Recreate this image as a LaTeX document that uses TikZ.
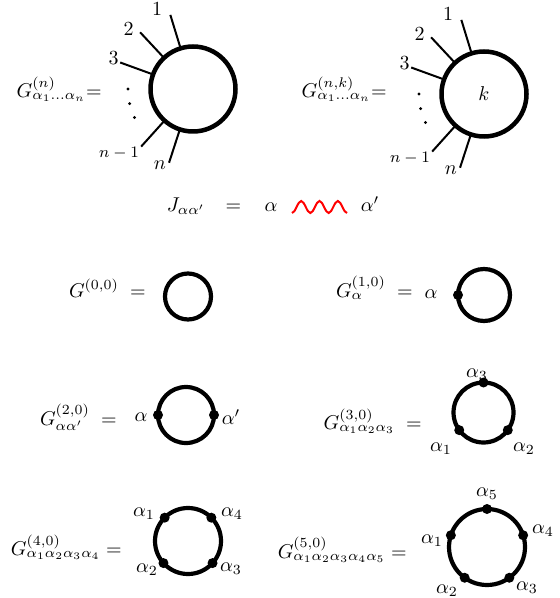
\documentclass[tikz,border=0pt]{standalone}

\begin{document}
\begin{tikzpicture}[x=0.5pt,y=0.5pt,
  blob/.style={circle,draw,line width=2.25pt,inner sep=0pt,outer sep=0pt,minimum size=42.5pt},
  loop/.style={circle,draw,line width=2.1pt,inner sep=0pt,outer sep=0pt},
  leg/.style={line width=1pt},
  vtx/.style={circle,fill,inner sep=0pt,minimum size=5pt},
  eq/.style={anchor=base east,inner sep=0pt},
  photon/.style={red,line width=1pt}]
\useasboundingbox (0,0) rectangle (559,-598);

% n-point blobs
\node[blob] (gn) at (193,-89) {};
\node[blob] (gk) at (484,-94) {$k$};
\node[eq] (egn) at (102,-97.5) {$G^{(n)}_{\alpha_1\ldots\alpha_n}{=}$};
\node[eq] (egk) at (387,-97.5) {$G^{(n,k)}_{\alpha_1\ldots\alpha_n}{=}$};
\foreach \b in {gn,gk}{
  \foreach \a in {107,133,160,228,252}
    \draw[leg] (\b.\a) -- ++(\a:35);
  \foreach \a in {180,193,206}
    \fill (\b) ++(\a:65) circle (1.6);
  \path (\b) ++(114:88) node (\b1) {$1$}
        (\b) ++(137:88) node (\b2) {$2$}
        (\b) ++(159:85) node (\b3) {$3$}
        (\b) ++(221:98) node[font=\footnotesize] (\b4) {$n-1$}
        (\b) ++(246.5:83) node (\b5) {$n$};
}

% propagator
\node[anchor=base] (jl) at (186,-212) {$J_{\alpha\alpha'}$};
\node[anchor=base] (jeq) at (233.5,-212) {$=$};
\node[anchor=base] (ja) at (271,-212) {$\alpha$};
\node[anchor=base] (jb) at (370,-212) {$\alpha'$};
\coordinate (ws) at (292,-213);
\draw[photon] (ws) \foreach \k in {1,2,3}{
  cos ++(4.583,6) sin ++(4.583,6) cos ++(4.583,-6) sin ++(4.583,-6)};

% loops
\node[eq] (e00) at (146,-297) {$G^{(0,0)}\; =$};
\node[loop,minimum size=23pt] (c00) at (188,-296.5) {};

\node[eq] (e10) at (413,-297) {$G^{(1,0)}_{\alpha}\; =$};
\node[anchor=base] (a10) at (431,-298) {$\alpha$};
\node[loop,minimum size=26pt] (c10) at (484,-295) {};
\node[vtx] (v10) at (c10.180) {};

\node[eq] (e20) at (117,-425) {$G^{(2,0)}_{\alpha\alpha'}\; =$};
\node[loop,minimum size=28pt] (c20) at (186,-415) {};
\node[vtx] (v20a) at (c20.180) {};
\node[vtx] (v20b) at (c20.0) {};
\node (a20a) at (141,-417) {$\alpha$};
\node (a20b) at (231,-417) {$\alpha'$};

\node[eq] (e30) at (422,-429.5) {$G^{(3,0)}_{\alpha_1\alpha_2\alpha_3}\; =$};
\node[loop,minimum size=30pt] (c30) at (483.5,-412.5) {};
\foreach \a [count=\i] in {216,324,90}
  \node[vtx] (v30\i) at (c30.\a) {};
\node (a31) at (441,-449) {$\alpha_1$};
\node (a32) at (524,-449) {$\alpha_2$};
\node (a33) at (477,-375) {$\alpha_3$};

\node[eq] (e40) at (122,-555.5) {$G^{(4,0)}_{\alpha_1\alpha_2\alpha_3\alpha_4} =$};
\node[loop,minimum size=33pt] (c40) at (188,-541) {};
\foreach \a [count=\i] in {135,222,318,45}
  \node[vtx] (v40\i) at (c40.\a) {};
\node (a41) at (144,-514) {$\alpha_1$};
\node (a42) at (147,-570) {$\alpha_2$};
\node (a43) at (231,-569) {$\alpha_3$};
\node (a44) at (232,-514) {$\alpha_4$};

\node[eq] (e50) at (407,-558) {$G^{(5,0)}_{\alpha_1\alpha_2\alpha_3\alpha_4\alpha_5} =$};
\node[loop,minimum size=38pt] (c50) at (487,-547) {};
\foreach \a [count=\i] in {162,234,306,18,90}
  \node[vtx] (v50\i) at (c50.\a) {};
\node (a51) at (432,-541) {$\alpha_1$};
\node (a52) at (447,-591) {$\alpha_2$};
\node (a53) at (527,-588) {$\alpha_3$};
\node (a54) at (543,-531) {$\alpha_4$};
\node (a55) at (487,-494) {$\alpha_5$};
\end{tikzpicture}
\end{document}
